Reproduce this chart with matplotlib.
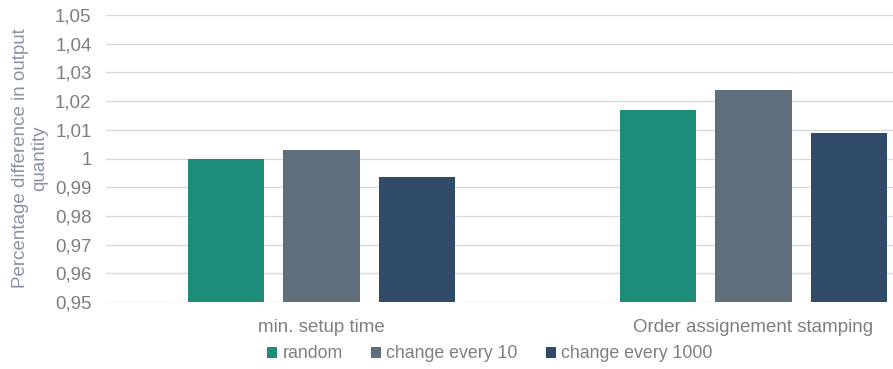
import matplotlib.pyplot as plt
import numpy as np

categories = ['min. setup time', 'Order assignement stamping']
series = ['random', 'change every 10', 'change every 1000']
random_vals = [0.9997, 1.0170]
every10_vals = [1.0031, 1.0239]
every1000_vals = [0.9937, 1.0089]
yticks = [0.95, 0.96, 0.97, 0.98, 0.99, 1.0, 1.01, 1.02, 1.03, 1.04, 1.05]
ytick_labels = ['0,95', '0,96', '0,97', '0,98', '0,99', '1', '1,01', '1,02', '1,03', '1,04', '1,05']

colors = ['#1d8c79', '#5e6e7a', '#2f4b69']
text_col = '#7f7f7f'

plt.rcParams['font.family'] = ['Liberation Sans', 'DejaVu Sans']

fig = plt.figure(figsize=(8.93, 3.69), dpi=100)
ax = fig.add_axes([105.5 / 893, 1 - 302 / 369, 864 / 893, 287 / 369])

x = np.arange(len(categories))
w = 0.176
offs = [-0.222, 0, 0.222]
for vals, off, c, name in zip([random_vals, every10_vals, every1000_vals], offs, colors, series):
    ax.bar(x + off, np.array(vals) - 0.95, w, bottom=0.95, color=c, label=name, zorder=3)

ax.set_xlim(-0.5, 1.5)
ax.set_ylim(0.95, 1.05)
ax.set_yticks(yticks)
ax.set_yticklabels(ytick_labels)
ax.set_xticks(x)
ax.set_xticklabels(categories)
ax.grid(axis='y', color='#d9d9d9', linewidth=1, zorder=0)
for s in ax.spines.values():
    s.set_visible(False)
ax.tick_params(axis='both', length=0, labelsize=13.5, colors=text_col)
ax.tick_params(axis='y', pad=10)
ax.tick_params(axis='x', pad=12)
ax.set_ylabel('Percentage difference in output\nquantity', fontsize=13.5, color='#8a93a3', labelpad=5)

fig.legend(loc='center', bbox_to_anchor=(490 / 893, 1 - 354 / 369), ncol=3, frameon=False,
           handlelength=0.55, handleheight=0.55, handletextpad=0.3, columnspacing=1.6,
           fontsize=12.8, labelcolor=text_col)

plt.savefig('out.png', dpi=100)
